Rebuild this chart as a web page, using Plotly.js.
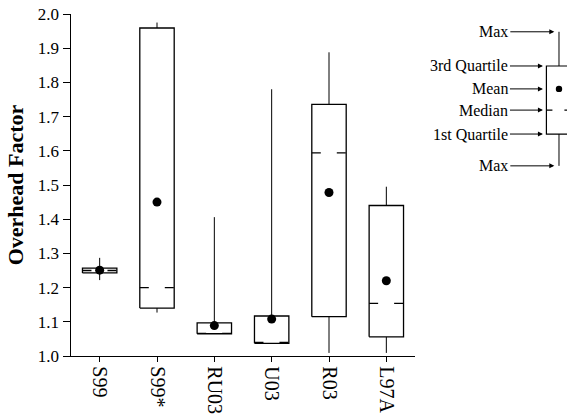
<!DOCTYPE html>
<html>
<head>
<meta charset="utf-8">
<script src="https://cdn.plot.ly/plotly-3.0.1.min.js"></script>
<style>
  html, body { margin: 0; padding: 0; background: #fff; }
  #chart { width: 567px; height: 416px; }
</style>
</head>
<body>
<div id="chart"></div>
<script>
// Overhead factor per study: five-number summary plus mean
const categories = ['S99', 'S99*', 'RU03', 'U03', 'R03', 'L97A'];
const maxValues    = [1.287, 1.975, 1.406, 1.780, 1.888, 1.495];
const q3Values     = [1.257, 1.959, 1.097, 1.117, 1.736, 1.440];
const medianValues = [1.250, 1.200, 1.066, 1.040, 1.594, 1.154];
const q1Values     = [1.243, 1.140, 1.065, 1.037, 1.115, 1.056];
const minValues    = [1.222, 1.127, 1.065, 1.037, 1.009, 1.009];
const meanValues   = [1.251, 1.450, 1.089, 1.108, 1.478, 1.220];
const yTicks = [1.0, 1.1, 1.2, 1.3, 1.4, 1.5, 1.6, 1.7, 1.8, 1.9, 2.0];

const FONT = 'Liberation Serif, Times New Roman, serif';
const HALF = 0.3;   // half box width in category units
const idx = categories.map((_, i) => i);

const traces = [];

// whiskers (no caps)
const wx = [], wy = [];
idx.forEach(i => {
  wx.push(i, i, null, i, i, null);
  wy.push(q3Values[i], maxValues[i], null, q1Values[i], minValues[i], null);
});
traces.push({type: 'scatter', mode: 'lines', x: wx, y: wy,
  line: {color: '#000', width: 1}, hoverinfo: 'skip', showlegend: false});

// boxes from Q1 to Q3
idx.forEach(i => {
  traces.push({type: 'scatter', mode: 'lines',
    x: [i - HALF, i + HALF, i + HALF, i - HALF, i - HALF],
    y: [q1Values[i], q1Values[i], q3Values[i], q3Values[i], q1Values[i]],
    fill: 'toself', fillcolor: '#fff',
    line: {color: '#000', width: 1.3}, hoverinfo: 'skip', showlegend: false});
});

// dashed medians
idx.forEach(i => {
  traces.push({type: 'scatter', mode: 'lines',
    x: [i - HALF, i + HALF], y: [medianValues[i], medianValues[i]],
    line: {color: '#000', width: 1.3, dash: '9px,16px,9px,16px'},
    hoverinfo: 'skip', showlegend: false});
});

// means
traces.push({type: 'scatter', mode: 'markers', x: idx, y: meanValues,
  marker: {color: '#000', size: 9}, showlegend: false});

// key diagram (paper coordinates, right of the plot)
const kx0 = 1.382, kx1 = 1.46, kxc = 1.4186;
const kTop = 0.948, kQ3 = 0.848, kMean = 0.781, kMed = 0.719, kQ1 = 0.649, kBot = 0.556;
const shapes = [
  {type: 'rect', xref: 'paper', yref: 'paper', x0: kx0, x1: kx1, y0: kQ1, y1: kQ3,
    line: {color: '#000', width: 1.2}},
  {type: 'line', xref: 'paper', yref: 'paper', x0: kxc, x1: kxc, y0: kQ3, y1: kTop,
    line: {color: '#000', width: 1}},
  {type: 'line', xref: 'paper', yref: 'paper', x0: kxc, x1: kxc, y0: kBot, y1: kQ1,
    line: {color: '#000', width: 1}},
  {type: 'line', xref: 'paper', yref: 'paper', x0: kx0, x1: kx1, y0: kMed, y1: kMed,
    line: {color: '#000', width: 1.2, dash: '6px,12px'}},
  {type: 'circle', xref: 'paper', yref: 'paper', xsizemode: 'pixel', ysizemode: 'pixel',
    xanchor: kxc, yanchor: kMean, x0: -3.2, x1: 3.2, y0: -3.2, y1: 3.2,
    fillcolor: '#000', line: {color: '#000', width: 0}}
];

function keyArrow(label, y, xHead, ax) {
  return {xref: 'paper', yref: 'paper', x: xHead, y: y, text: label,
    showarrow: true, ax: ax, ay: 0, axref: 'pixel', ayref: 'pixel',
    xanchor: 'right', arrowhead: 2, arrowsize: 1, arrowwidth: 1, arrowcolor: '#000',
    font: {family: FONT, size: 16, color: '#000'}};
}
const headWhisker = 1.405, headBox = 1.372;
const annotations = [
  keyArrow('Max', kTop, headWhisker, -44),
  keyArrow('3rd Quartile', kQ3, headBox, -33),
  keyArrow('Mean', kMean, headBox, -33),
  keyArrow('Median', kMed, headBox, -33),
  keyArrow('1st Quartile', kQ1, headBox, -33),
  keyArrow('Max', kBot, headWhisker, -44)
];

const layout = {
  width: 567, height: 416,
  margin: {l: 71, r: 152, t: 14, b: 60},
  paper_bgcolor: '#fff', plot_bgcolor: '#fff',
  showlegend: false,
  font: {family: FONT, color: '#000'},
  xaxis: {
    range: [-0.5, 5.5], tickmode: 'array', tickvals: idx, ticktext: categories,
    tickangle: 90, tickfont: {family: FONT, size: 20, color: '#000'},
    showgrid: false, zeroline: false, showline: true, linecolor: '#000', linewidth: 1.3,
    ticks: 'outside', ticklen: 5, tickcolor: '#000', tickwidth: 1, fixedrange: true
  },
  yaxis: {
    range: [1.0, 2.0], tickmode: 'array', tickvals: yTicks,
    ticktext: yTicks.map(v => v.toFixed(1)),
    tickfont: {family: FONT, size: 17, color: '#000'},
    showgrid: false, zeroline: false, showline: true, linecolor: '#000', linewidth: 1.5,
    ticks: 'outside', ticklen: 7, tickcolor: '#000', tickwidth: 1, fixedrange: true,
    title: {text: 'Overhead Factor', standoff: 8,
      font: {family: FONT, size: 22, weight: 'bold', color: '#000'}}
  },
  shapes: shapes,
  annotations: annotations
};

Plotly.newPlot('chart', traces, layout, {displayModeBar: false, staticPlot: true});
</script>
</body>
</html>
